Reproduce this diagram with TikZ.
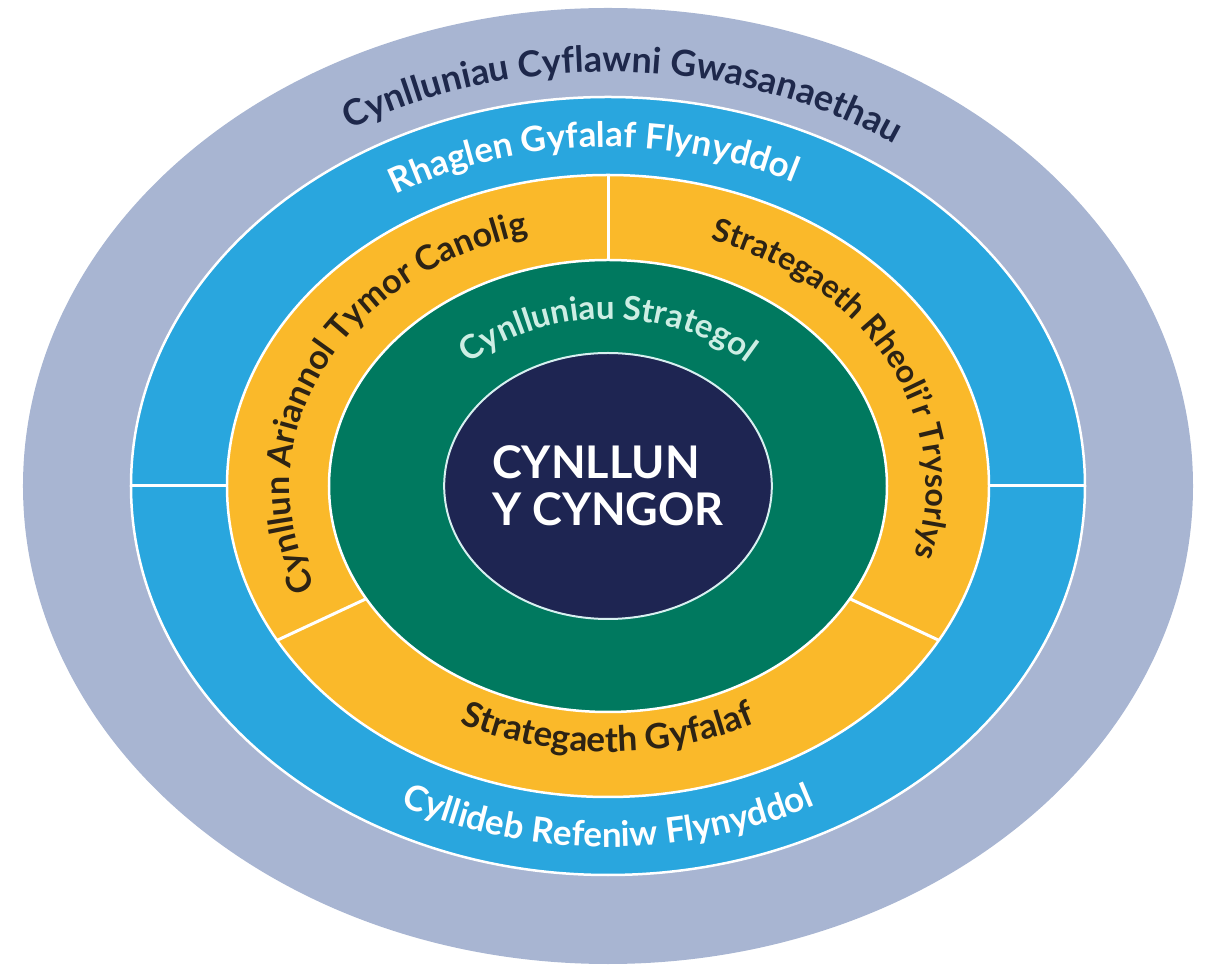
\documentclass[tikz,border=0pt]{standalone}
\usepackage{fontspec}
\setmainfont{Lato}
\usetikzlibrary{shapes.geometric,decorations.text}
\definecolor{ringgrey}{RGB}{168,181,210}
\definecolor{ringblue}{RGB}{41,166,222}
\definecolor{ringyellow}{RGB}{250,185,42}
\definecolor{ringgreen}{RGB}{0,121,95}
\definecolor{ringnavy}{RGB}{30,37,82}
\definecolor{greytext}{RGB}{30,40,75}
\definecolor{yellowtext}{RGB}{45,35,20}
\definecolor{greentext}{RGB}{205,238,228}
\definecolor{navyedge}{RGB}{215,240,240}
\newcommand\fGreyLbl{\fontsize{36}{36}\selectfont\bfseries}
\newcommand\fBlueLbl{\fontsize{35}{35}\selectfont\bfseries}
\newcommand\fLeftLbl{\fontsize{34}{34}\selectfont\bfseries}
\newcommand\fRightLbl{\fontsize{32}{32}\selectfont\bfseries}
\newcommand\fBotLbl{\fontsize{35}{35}\selectfont\bfseries}
\newcommand\fGreenLbl{\fontsize{33}{33}\selectfont\bfseries}
\begin{document}
\begin{tikzpicture}[x=1pt,y=1pt,
  ring/.style={ellipse, inner sep=0pt, outer sep=0pt},
  whiteedge/.style={draw=white, line width=2.5pt},
  divider/.style={draw=white, line width=3pt},
  curved/.style={decorate, decoration={text along path, text align=center, #1}}]
\useasboundingbox (-608,-479) rectangle (599,486);
\node[ring, fill=ringgrey, minimum width=1170pt, minimum height=956pt] (grey) at (0,0) {};
\node[ring, fill=ringblue, whiteedge, minimum width=954pt, minimum height=778pt] (blue) at (0,0) {};
\node[ring, fill=ringyellow, whiteedge, minimum width=762pt, minimum height=622pt] (yellow) at (0,0) {};
\node[ring, fill=ringgreen, whiteedge, minimum width=558pt, minimum height=452pt] (green) at (0,0) {};
\node[ring, fill=ringnavy, draw=navyedge, line width=2pt, minimum width=326pt, minimum height=266pt,
      text=white, align=left, font=\fontsize{45}{47}\selectfont\bfseries] (core) at (0,0) {CYNLLUN\\Y CYNGOR};
% dividers
\draw[divider] (blue.west) -- (yellow.west);
\draw[divider] (blue.east) -- (yellow.east);
\draw[divider] (yellow.north) -- (green.north);
\draw[divider] (yellow.205) -- (green.205);
\draw[divider] (yellow.335) -- (green.335);
% curved labels
\path[curved={text color=greytext, text={|\fGreyLbl|Cynlluniau Cyflawni Gwasanaethau}}]
  (177.8:507 and 414) arc[start angle=177.8, end angle=-2.2, x radius=507, y radius=414];
\path[curved={text color=white, text={|\fBlueLbl|Rhaglen Gyfalaf Flynyddol}}]
  (182.5:415 and 339) arc[start angle=182.5, end angle=2.5, x radius=415, y radius=339];
\path[curved={text color=white, text={|\fBlueLbl|Cyllideb Refeniw Flynyddol}}]
  (180:442 and 361) arc[start angle=180, end angle=360, x radius=442, y radius=361];
\path[curved={text color=yellowtext, text={|\fLeftLbl|Cynllun Ariannol Tymor Canolig}}]
  (245.5:318 and 260) arc[start angle=245.5, end angle=65.5, x radius=318, y radius=260];
\path[curved={text color=yellowtext, text={|\fRightLbl|Strategaeth Rheoli'r Trysorlys}}]
  (115.5:318 and 260) arc[start angle=115.5, end angle=-64.5, x radius=318, y radius=260];
\path[curved={text color=yellowtext, text={|\fBotLbl|Strategaeth Gyfalaf}}]
  (180:326 and 266) arc[start angle=180, end angle=360, x radius=326, y radius=266];
\path[curved={text color=greentext, text={|\fGreenLbl|Cynlluniau Strategol}}]
  (180:205 and 167) arc[start angle=180, end angle=0, x radius=205, y radius=167];
\end{tikzpicture}
\end{document}
